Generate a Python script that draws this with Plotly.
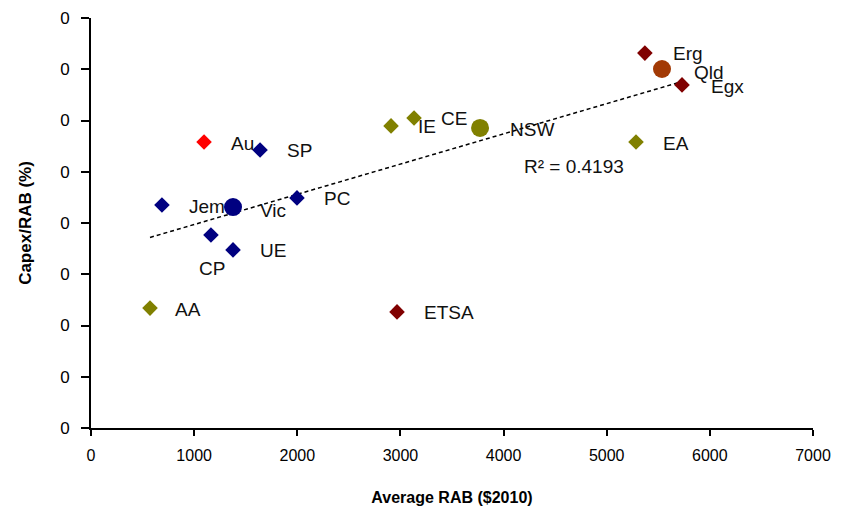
import numpy as np
import plotly.graph_objects as go

# Data (Average RAB $2010, Capex/RAB)
names = ["Erg", "Qld", "Egx", "EA", "NSW", "CE", "IE", "Au", "SP", "Jem", "Vic", "PC", "CP", "UE", "AA", "ETSA"]
rab = [5370, 5536, 5730, 5284, 3772, 3132, 2909, 1096, 1639, 688, 1377, 1997, 1163, 1377, 572, 2967]
capex_ratio = [0.1463, 0.1401, 0.1339, 0.1116, 0.1171, 0.1210, 0.1179, 0.1116, 0.1085, 0.0870, 0.0862, 0.0898, 0.0753, 0.0695, 0.0468, 0.0453]
group = ["dr", "qld", "dr", "ol", "olc", "ol", "ol", "red", "nv", "nv", "nvc", "nv", "nv", "nv", "ol", "dr"]
y_tick_values = [0, 0.02, 0.04, 0.06, 0.08, 0.10, 0.12, 0.14, 0.16]
y_tick_labels = ["0", "0", "0", "0", "0", "0", "0", "0", "0"]
x_tick_values = [0, 1000, 2000, 3000, 4000, 5000, 6000, 7000]
r2_label = "R² = 0.4193"

styles = {
    "dr": dict(color="#800000", symbol="diamond", size=12),
    "qld": dict(color="#A23A05", symbol="circle", size=18),
    "ol": dict(color="#808000", symbol="diamond", size=12),
    "olc": dict(color="#808000", symbol="circle", size=18),
    "red": dict(color="#FF0000", symbol="diamond", size=12),
    "nv": dict(color="#000080", symbol="diamond", size=12),
    "nvc": dict(color="#000080", symbol="circle", size=18),
}

REG = "Liberation Sans, Arial, sans-serif"

fig = go.Figure()

# trendline from linear fit
xa = np.array(rab, dtype=float)
ya = np.array(capex_ratio, dtype=float)
slope, intercept = np.polyfit(xa, ya, 1)
xl = np.array([xa.min(), xa.max()])
fig.add_trace(go.Scatter(x=xl, y=slope * xl + intercept, mode="lines",
                         line=dict(color="black", width=1.5, dash="4px,3px"),
                         hoverinfo="skip", showlegend=False))

for g, st in styles.items():
    idx = [i for i, gg in enumerate(group) if gg == g]
    fig.add_trace(go.Scatter(
        x=[rab[i] for i in idx], y=[capex_ratio[i] for i in idx],
        mode="markers", text=[names[i] for i in idx],
        marker=dict(color=st["color"], symbol=st["symbol"], size=st["size"], line=dict(width=0)),
        showlegend=False))

offsets = {"CP": (1, -33, "center"), "Vic": (25, -3, "left"), "Erg": (26, 0, "left"),
           "Qld": (30, -4, "left"), "Egx": (27, -2, "left"), "NSW": (28, -2, "left"),
           "ETSA": (25, -1, "left"), "AA": (23, -1, "left")}
for n, x, y in zip(names, rab, capex_ratio):
    dx, dy, xa_ = offsets.get(n, (25, -1, "left"))
    fig.add_annotation(x=x, y=y, text=n, showarrow=False, xanchor=xa_, yanchor="middle",
                       xshift=dx, yshift=dy, font=dict(size=19, color="#111", family=REG))

fig.add_annotation(x=4500, y=slope * 4500 + intercept, text=r2_label, showarrow=False,
                   xref="x", yref="y", xanchor="center", yanchor="middle", xshift=19, yshift=-48,
                   font=dict(size=19, color="#111", family=REG))

fig.update_layout(
    width=842, height=518,
    margin=dict(l=83, r=37, t=10, b=98, autoexpand=False),
    paper_bgcolor="white", plot_bgcolor="white",
    font=dict(family=REG, color="black"),
    xaxis=dict(range=[0, 7000], tickvals=x_tick_values, showgrid=False, zeroline=False,
               automargin=False,
               showline=True, linecolor="black", linewidth=2, ticks="outside", ticklen=6,
               tickcolor="black", tickwidth=1.5, tickfont=dict(size=16, family=REG),
               ticklabelstandoff=6,
               title=dict(text="<b>Average RAB ($2010)</b>", font=dict(size=16, family=REG), standoff=29)),
    yaxis=dict(range=[0, 0.16], tickvals=y_tick_values, ticktext=y_tick_labels, showgrid=False,
               automargin=False,
               zeroline=False, showline=True, linecolor="black", linewidth=2, ticks="outside",
               ticklen=8, tickcolor="black", tickwidth=1.5, tickfont=dict(size=17, family=REG),
               ticklabelstandoff=8,
               title=dict(text="<b>Capex/RAB (%)</b>", font=dict(size=17, family=REG), standoff=24)),
)

fig.write_html("out.html")
